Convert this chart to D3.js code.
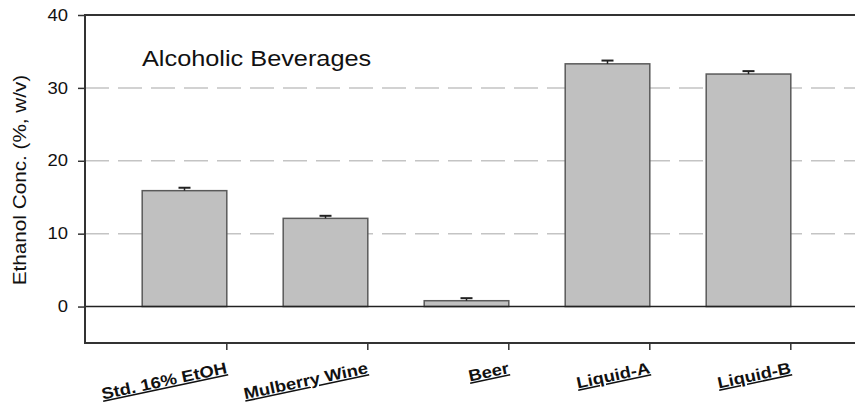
<!DOCTYPE html>
<html>
<head>
<meta charset="utf-8">
<script src="https://cdn.jsdelivr.net/npm/d3@7"></script>
<style>
  body { margin: 0; background: #fff; }
  text { font-family: Arial, "Liberation Sans", sans-serif; fill: #111; }
</style>
</head>
<body>
<script>
// data
const categories = ['Std. 16% EtOH', 'Mulberry Wine', 'Beer', 'Liquid-A', 'Liquid-B'];
const means = [15.9, 12.1, 0.8, 33.3, 31.9];
const errors = [0.4, 0.35, 0.35, 0.45, 0.4];
const yTicks = [0, 10, 20, 30, 40];
const gridValues = [10, 20, 30];
const titleText = 'Alcoholic Beverages';
const yLabel = 'Ethanol Conc. (%, w/v)';

const W = 855, H = 407;
const plotLeft = 85, plotRight = 856, plotTop = 15, plotBottom = 343;

// the scan is a bit wider than the font, so text gets stretched
const stretch = 1.15;

const svg = d3.select('body')
  .append('svg')
  .attr('width', W)
  .attr('height', H);

const x = d3.scaleBand()
  .domain(categories)
  .range([114, 819])
  .paddingInner(0.4)
  .paddingOuter(0.2);

const y = d3.scaleLinear()
  .domain([-5, 40])
  .range([plotBottom, plotTop]);

/* dashed grid lines behind the bars */
svg.append('g')
  .selectAll('line')
  .data(gridValues)
  .enter()
  .append('line')
  .attr('x1', plotLeft)
  .attr('x2', plotRight)
  .attr('y1', d => y(d))
  .attr('y2', d => y(d))
  .attr('stroke', '#c4c4c4')
  .attr('stroke-width', 1.5)
  .attr('stroke-dasharray', '24,9');

/* bars */
svg.append('g')
  .selectAll('rect')
  .data(means)
  .enter()
  .append('rect')
  .attr('x', (d, i) => x(categories[i]))
  .attr('width', x.bandwidth())
  .attr('y', d => y(d))
  .attr('height', d => y(0) - y(d))
  .attr('fill', '#c0c0c0')
  .attr('stroke', '#5a5a5a')
  .attr('stroke-width', 1.5);

/* error bars, only the upper half shows */
const eb = svg.append('g');
eb.selectAll('line.stem')
  .data(means)
  .enter()
  .append('line')
  .attr('class', 'stem')
  .attr('x1', (d, i) => x(categories[i]) + x.bandwidth() / 2)
  .attr('x2', (d, i) => x(categories[i]) + x.bandwidth() / 2)
  .attr('y1', d => y(d))
  .attr('y2', (d, i) => y(d + errors[i]))
  .attr('stroke', '#222')
  .attr('stroke-width', 1.5);
eb.selectAll('line.cap')
  .data(means)
  .enter()
  .append('line')
  .attr('class', 'cap')
  .attr('x1', (d, i) => x(categories[i]) + x.bandwidth() / 2 - 6)
  .attr('x2', (d, i) => x(categories[i]) + x.bandwidth() / 2 + 6)
  .attr('y1', (d, i) => y(d + errors[i]))
  .attr('y2', (d, i) => y(d + errors[i]))
  .attr('stroke', '#222')
  .attr('stroke-width', 2);

/* zero line */
svg.append('line')
  .attr('x1', plotLeft).attr('x2', plotRight)
  .attr('y1', y(0)).attr('y2', y(0))
  .attr('stroke', '#222')
  .attr('stroke-width', 1.5);

/* frame: left, top, bottom */
svg.append('path')
  .attr('d', `M${plotRight},${plotTop}H${plotLeft}V${plotBottom}H${plotRight}`)
  .attr('fill', 'none')
  .attr('stroke', '#333')
  .attr('stroke-width', 2);

/* y axis */
const yAxis = svg.append('g')
  .attr('transform', `translate(${plotLeft},0)`)
  .call(d3.axisLeft(y).tickValues(yTicks).tickSize(7).tickPadding(10));
yAxis.select('.domain').remove();
yAxis.selectAll('line').attr('stroke', '#333').attr('stroke-width', 1.5);
yAxis.selectAll('text')
  .attr('font-size', 16)
  .attr('fill', '#111')
  .style('font-family', 'Arial, "Liberation Sans", sans-serif');

/* x axis ticks sit on the right edge of each bar */
svg.append('g')
  .selectAll('line')
  .data(categories)
  .enter()
  .append('line')
  .attr('x1', d => x(d) + x.bandwidth())
  .attr('x2', d => x(d) + x.bandwidth())
  .attr('y1', plotBottom)
  .attr('y2', plotBottom + 7)
  .attr('stroke', '#333')
  .attr('stroke-width', 1.5);

svg.append('g')
  .selectAll('text')
  .data(categories)
  .enter()
  .append('text')
  .attr('transform', d => `translate(${x(d) + x.bandwidth() + 1},${plotBottom + 30}) rotate(-12)`)
  .attr('text-anchor', 'end')
  .attr('font-size', 16)
  .attr('font-weight', 'bold')
  .attr('text-decoration', 'underline')
  .text(d => d);

/* title */
svg.append('text')
  .attr('x', 142)
  .attr('y', 66)
  .attr('font-size', 22)
  .text(titleText);

/* y label */
svg.append('text')
  .attr('transform', `translate(26,180) rotate(-90)`)
  .attr('text-anchor', 'middle')
  .attr('font-size', 18)
  .text(yLabel);

/* widen every label a bit to match the scan */
svg.selectAll('text').each(function() {
  const len = this.getComputedTextLength();
  d3.select(this)
    .attr('textLength', len * stretch)
    .attr('lengthAdjust', 'spacingAndGlyphs');
});
</script>
</body>
</html>
